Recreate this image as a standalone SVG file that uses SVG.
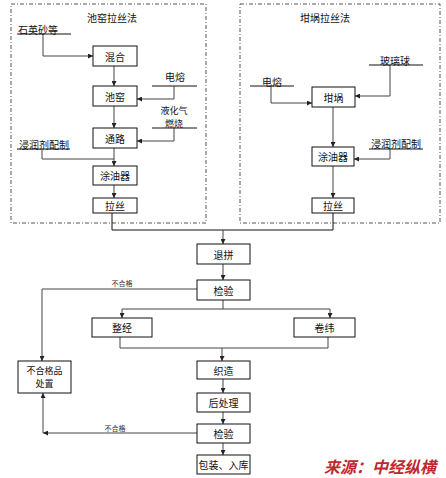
<svg xmlns="http://www.w3.org/2000/svg" width="446" height="478" viewBox="0 0 446 478">
<defs>
<marker id="arr" markerWidth="5" markerHeight="5" refX="5" refY="2.5" orient="auto" markerUnits="userSpaceOnUse">
<path d="M0,0 L5,2.5 L0,5 z" fill="#222"/>
</marker>
<style>
.box{fill:#fff;stroke:#111;stroke-width:1}
.frame{fill:none;stroke:#555;stroke-width:1;stroke-dasharray:4,2,1,2}
.t{font-family:"Noto Sans CJK SC","Liberation Sans",sans-serif;font-size:10px;fill:#111;text-anchor:middle;dominant-baseline:central}
.t2{font-family:"Noto Sans CJK SC","Liberation Sans",sans-serif;font-size:9px;fill:#111;text-anchor:middle;dominant-baseline:central}
.s{font-family:"Noto Sans CJK SC","Liberation Sans",sans-serif;font-size:7px;fill:#333;text-anchor:middle;dominant-baseline:central}
.ul{stroke:#111;stroke-width:1}
.c{fill:none;stroke:#444;stroke-width:1}
.src{font-family:"Noto Sans CJK SC","Liberation Sans",sans-serif;font-size:16px;font-weight:bold;font-style:italic;fill:#c0282d;text-anchor:middle;dominant-baseline:central}
</style>
</defs>
<rect width="446" height="478" fill="#fff"/>
<rect class="frame" x="11" y="4" width="195" height="219"/>
<rect class="frame" x="240" y="4" width="200" height="219"/>
<text class="t" x="112" y="17">池窑拉丝法</text>
<text class="t" x="325" y="17">坩埚拉丝法</text>

<g id="connectors">
<polyline class="c" points="43,34 43,56 93,56" marker-end="url(#arr)"/>
<line class="c" x1="114" y1="66" x2="114" y2="86" marker-end="url(#arr)"/>
<polyline class="c" points="174,86 174,99 137,99" marker-end="url(#arr)"/>
<line class="c" x1="114" y1="106" x2="114" y2="128" marker-end="url(#arr)"/>
<polyline class="c" points="174,128 174,141 137,141" marker-end="url(#arr)"/>
<line class="c" x1="114" y1="148" x2="114" y2="166" marker-end="url(#arr)"/>
<polyline class="c" points="42,149 42,159 114,159"/>
<line class="c" x1="114" y1="185" x2="114" y2="198" marker-end="url(#arr)"/>
<polyline class="c" points="112,213 112,230 333,230" style="stroke:#111"/>
<line class="c" x1="333" y1="213" x2="333" y2="230" style="stroke:#111"/>
<line class="c" x1="223" y1="230" x2="223" y2="244" marker-end="url(#arr)"/>
<polyline class="c" points="271,86 271,103 312,103" marker-end="url(#arr)"/>
<polyline class="c" points="390,65 390,96 355,96" marker-end="url(#arr)"/>
<line class="c" x1="333" y1="107" x2="333" y2="147" marker-end="url(#arr)"/>
<polyline class="c" points="390,149 390,159 354,159" marker-end="url(#arr)"/>
<line class="c" x1="333" y1="166" x2="333" y2="198" marker-end="url(#arr)"/>
<line class="c" x1="223" y1="264" x2="223" y2="280" marker-end="url(#arr)"/>
<polyline class="c" points="197,289 42,289 42,361" marker-end="url(#arr)"/>
<line class="c" x1="223" y1="300" x2="223" y2="309"/>
<line class="c" x1="122" y1="309" x2="330" y2="309"/>
<line class="c" x1="122" y1="309" x2="122" y2="318" marker-end="url(#arr)"/>
<line class="c" x1="330" y1="309" x2="330" y2="318" marker-end="url(#arr)"/>
<polyline class="c" points="120,337 120,348 328,348 328,337"/>
<line class="c" x1="222" y1="348" x2="222" y2="361" marker-end="url(#arr)"/>
<line class="c" x1="223" y1="379" x2="223" y2="393" marker-end="url(#arr)"/>
<line class="c" x1="223" y1="412" x2="223" y2="424" marker-end="url(#arr)"/>
<line class="c" x1="223" y1="443" x2="223" y2="455" marker-end="url(#arr)"/>
<line class="c" x1="197" y1="433" x2="43" y2="433" marker-end="url(#arr)"/>
<line class="c" x1="43" y1="433" x2="43" y2="393" marker-end="url(#arr)"/>
<text class="s" x="122" y="283">不合格</text>
<text class="s" x="115" y="428">不合格</text>
</g>

<g id="in-quartz"><text class="t" x="38" y="29">石英砂等</text><line class="ul" x1="17" y1="34" x2="71" y2="34"/></g>
<g id="in-elec1"><text class="t" x="175" y="76">电熔</text><line class="ul" x1="152" y1="86" x2="197" y2="86"/></g>
<g id="in-gas"><text class="t2" x="174" y="110.5">液化气</text><text class="t2" x="174" y="123.5">燃烧</text><line class="ul" x1="152" y1="128" x2="197" y2="128"/></g>
<g id="in-size1"><text class="t" x="44" y="144">浸润剂配制</text><line class="ul" x1="17" y1="149" x2="70" y2="149"/></g>
<g id="in-elec2"><text class="t" x="272" y="81">电熔</text><line class="ul" x1="250" y1="86" x2="294" y2="86"/></g>
<g id="in-glass"><text class="t" x="395" y="60">玻璃球</text><line class="ul" x1="369" y1="65" x2="423" y2="65"/></g>
<g id="in-size2"><text class="t" x="396" y="143">浸润剂配制</text><line class="ul" x1="369" y1="149" x2="423" y2="149"/></g>

<g id="n-mix"><rect class="box" x="93" y="46" width="44" height="20"/><text class="t" x="115" y="56">混合</text></g>
<g id="n-pool"><rect class="box" x="93" y="86" width="44" height="20"/><text class="t" x="115" y="96">池窑</text></g>
<g id="n-channel"><rect class="box" x="93" y="128" width="44" height="20"/><text class="t" x="115" y="138">通路</text></g>
<g id="n-coat1"><rect class="box" x="93" y="166" width="44" height="19"/><text class="t" x="115" y="175.5">涂油器</text></g>
<g id="n-draw1"><rect class="box" x="93" y="198" width="44" height="15"/><text class="t" x="115" y="205.5">拉丝</text></g>
<g id="n-crucible"><rect class="box" x="312" y="87" width="43" height="20"/><text class="t" x="333.5" y="97">坩埚</text></g>
<g id="n-coat2"><rect class="box" x="312" y="147" width="42" height="19"/><text class="t" x="333" y="156.5">涂油器</text></g>
<g id="n-draw2"><rect class="box" x="312" y="198" width="42" height="15"/><text class="t" x="333" y="205.5">拉丝</text></g>
<g id="n-merge"><rect class="box" x="197" y="244" width="53" height="20"/><text class="t" x="223.5" y="254">退拼</text></g>
<g id="n-inspect1"><rect class="box" x="197" y="280" width="53" height="20"/><text class="t" x="223.5" y="290">检验</text></g>
<g id="n-warp"><rect class="box" x="92" y="318" width="60" height="19"/><text class="t" x="122" y="327.5">整经</text></g>
<g id="n-weft"><rect class="box" x="294" y="318" width="61" height="19"/><text class="t" x="324.5" y="327.5">卷纬</text></g>
<g id="n-reject"><rect class="box" x="18" y="361" width="53" height="32"/><text class="t2" x="44.5" y="370.5">不合格品</text><text class="t2" x="44.5" y="383.5">处置</text></g>
<g id="n-weave"><rect class="box" x="197" y="361" width="53" height="18"/><text class="t" x="223.5" y="370">织造</text></g>
<g id="n-post"><rect class="box" x="197" y="393" width="53" height="19"/><text class="t" x="223.5" y="402.5">后处理</text></g>
<g id="n-inspect2"><rect class="box" x="197" y="424" width="53" height="19"/><text class="t" x="223.5" y="433.5">检验</text></g>
<g id="n-pack"><rect class="box" x="197" y="455" width="53" height="19"/><text class="t" x="223.5" y="464.5">包装、入库</text></g>

<text class="src" x="380" y="466">来源：中经纵横</text>
</svg>
